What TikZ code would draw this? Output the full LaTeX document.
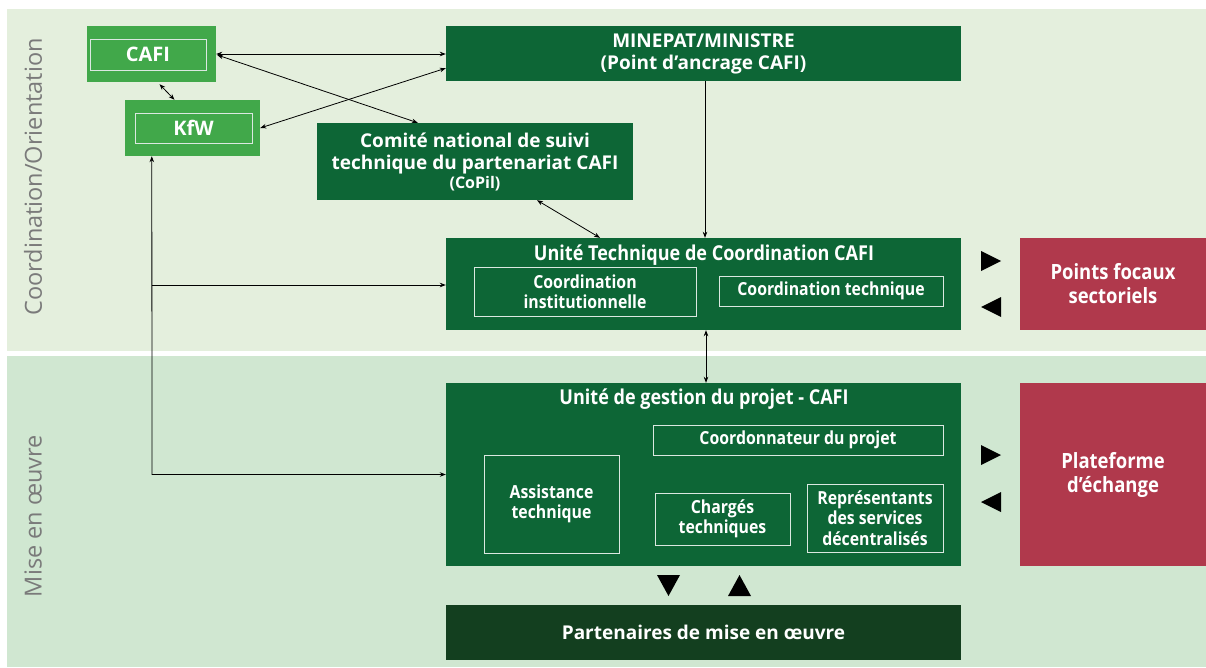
\documentclass[tikz,border=0pt]{standalone}
\usepackage{fontspec}
\setmainfont{Open Sans}
\newfontfamily\condf{Open Sans}[FakeStretch=0.88]
\usetikzlibrary{arrows.meta,calc}
\definecolor{bgtop}{HTML}{E4EFDD}
\definecolor{bgbot}{HTML}{D0E7D1}
\definecolor{dgreen}{HTML}{0D6636}
\definecolor{mgreen}{HTML}{41A84A}
\definecolor{rred}{HTML}{B0394C}
\definecolor{ddgreen}{HTML}{133F1F}
\definecolor{sidegray}{HTML}{7A7A7A}
\tikzset{
  box/.style={fill=dgreen,inner sep=0pt,align=center,text=white,font=\fontsize{19}{22}\selectfont\bfseries},
  gbox/.style={fill=mgreen,inner sep=0pt},
  inbox/.style={draw=white!85!dgreen,line width=0.9pt,inner sep=0pt,align=center,text=white,font=\fontsize{20}{22}\selectfont\bfseries},
  cbox/.style={draw=white!85!dgreen,line width=0.9pt,inner sep=0pt,align=center,text=white,font=\condf\fontsize{18}{20.5}\selectfont\bfseries},
  rbox/.style={fill=rred,inner sep=0pt,align=center,text=white,font=\condf\fontsize{21}{24}\selectfont\bfseries},
  ttl/.style={text=white,inner sep=0pt,font=\condf\fontsize{20.5}{22}\selectfont\bfseries},
  conn/.style={line width=0.8pt,black},
  tip/.style={-{Stealth[length=6pt,width=4.5pt]}},
  tips/.style={{Stealth[length=6pt,width=4.5pt]}-{Stealth[length=6pt,width=4.5pt]}},
  side/.style={rotate=90,text=sidegray,font=\fontsize{23.5}{26}\selectfont}
}
\begin{document}
\begin{tikzpicture}[x=1pt,y=-1pt]
\useasboundingbox (0,0) rectangle (1206,667);
\fill[white] (0,0) rectangle (1206,667);
\fill[bgtop] (7,9) rectangle (1206,351);
\fill[bgbot] (7,356) rectangle (1206,667);

\node[side] (lab1) at (33,177) {Coordination/Orientation};
\node[side] (lab2) at (33,516) {Mise en œuvre};

% top boxes
\node[gbox,minimum width=129pt,minimum height=56pt] (cafio) at (151.5,54) {};
\node[inbox,minimum width=116pt,minimum height=31pt] (cafi) at (148,54.5) {CAFI};
\node[gbox,minimum width=135pt,minimum height=56pt] (kfwo) at (192.5,128) {};
\node[inbox,minimum width=117pt,minimum height=30pt] (kfw) at (193.5,128) {KfW};
\node[box,minimum width=515pt,minimum height=55pt] (minepat) at (703.5,53.5) {MINEPAT/MINISTRE\\(Point d’ancrage CAFI)};
\node[box,minimum width=316pt,minimum height=77pt] (comite) at (475,161.5) {Comité national de suivi\\technique du partenariat CAFI\\[-3pt]{\fontsize{16}{17}\selectfont(CoPil)}};

% UTC
\node[box,minimum width=515pt,minimum height=92pt] (utc) at (703.5,284) {};
\node[ttl] (utct) at (704,255) {Unité Technique de Coordination CAFI};
\node[cbox,minimum width=222pt,minimum height=49pt] (ci) at (585,291.5) {Coordination\\institutionnelle};
\node[cbox,minimum width=224pt,minimum height=30pt] (ct) at (831,291) {Coordination technique};
\node[rbox,minimum width=186pt,minimum height=92pt] (pf) at (1113,284) {Points focaux\\sectoriels};

% UGP
\node[box,minimum width=515pt,minimum height=183pt] (ugp) at (703.5,474.5) {};
\node[ttl] (ugpt) at (704,399) {Unité de gestion du projet - CAFI};
\node[cbox,minimum width=290pt,minimum height=30pt] (cp) at (798,440) {Coordonnateur du projet};
\node[cbox,minimum width=135pt,minimum height=98pt] (at) at (551.5,504) {Assistance\\technique};
\node[cbox,minimum width=135pt,minimum height=52pt] (ch) at (722.5,519) {Chargés\\techniques};
\node[cbox,minimum width=136pt,minimum height=68pt] (rp) at (875,518) {Représentants\\des services\\décentralisés};
\node[rbox,minimum width=186pt,minimum height=183pt] (pe) at (1113,474.5) {Plateforme\\d’échange};

\node[box,fill=ddgreen,minimum width=515pt,minimum height=55pt] (pm) at (703.5,632.5) {Partenaires de mise en œuvre};

% big triangles
\fill (981,251) -- (1001,261) -- (981,271) -- cycle;
\fill (1001,297) -- (981,307) -- (1001,317) -- cycle;
\fill (981,445) -- (1001,455) -- (981,465) -- cycle;
\fill (1001,492) -- (981,502) -- (1001,512) -- cycle;
\fill (657,575) -- (680,575) -- (668.5,596) -- cycle;
\fill (728,596) -- (751,596) -- (739.5,575) -- cycle;

% connectors
\draw[conn,tips] (cafio.east) -- (minepat.west |- cafio.east);
\draw[conn,tips] ($(cafio.east)+(1,1)$) -- ($(comite.north west)+(101,0)$);
\draw[conn,tips] (kfwo.east) -- ($(minepat.south west)+(0,-13)$);
\draw[conn,tips] ($(cafio.south)+(8,2)$) -- ($(kfwo.north)+(-18,0)$);
\draw[conn,tip] ($(minepat.south)+(1.5,0)$) -- ($(utc.north)+(1.5,0)$);
\draw[conn,tips] ($(comite.south)+(62,0)$) -- ($(utc.north)+(-103.5,0)$);
\coordinate (j1) at (152,285);
\coordinate (j2) at (152,474.5);
\draw[conn,tips] ($(kfwo.south west)+(27,0)$) -- (j2) -- (ugp.west |- j2);
\draw[conn,tip] (j1) -- (utc.west |- j1);
\draw[conn,tips] ($(utc.south)+(2.5,0)$) -- ($(ugp.north)+(2.5,0)$);
\end{tikzpicture}
\end{document}
